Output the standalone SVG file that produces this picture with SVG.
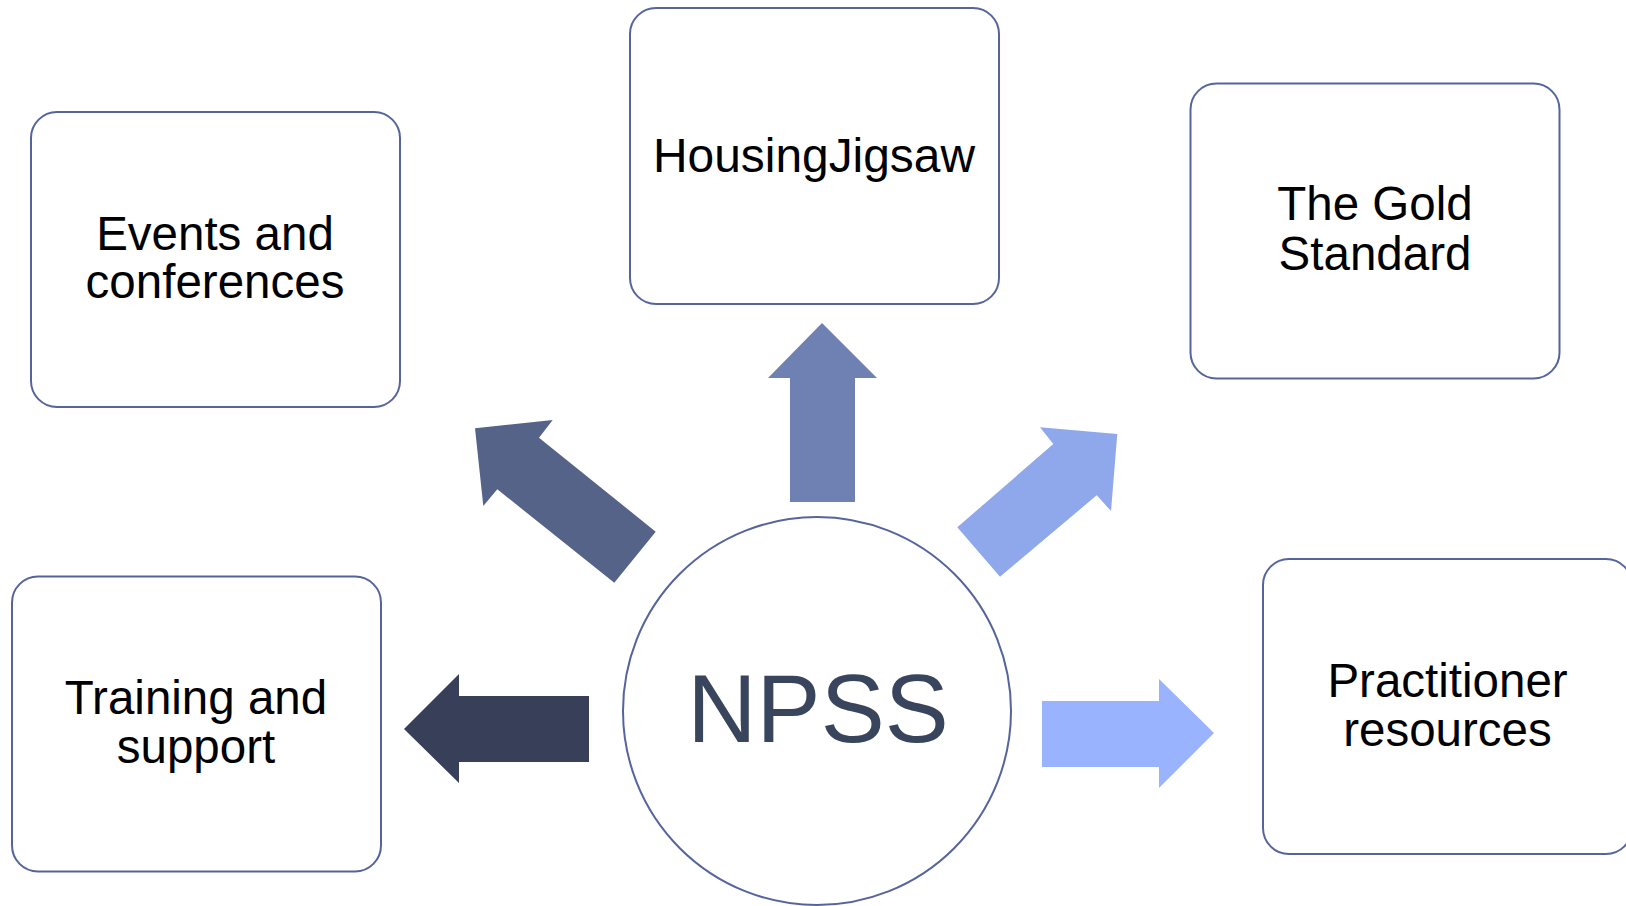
<svg xmlns="http://www.w3.org/2000/svg" width="1626" height="906" viewBox="0 0 1626 906">
<style>
.box{fill:#ffffff;stroke:#56649E;stroke-width:2}
.lbl{font-family:"Liberation Sans",Arial,sans-serif;font-size:47.5px;fill:#000000;text-anchor:middle}
.hub{font-family:"Liberation Sans",Arial,sans-serif;font-size:96px;fill:#38455C;text-anchor:middle}
</style>
<rect width="1626" height="906" fill="#ffffff"/>
<g id="connectors">
<polygon fill="#373F59" points="589,696 459,696 459,674 404,729 459,783 459,762 589,762"/>
<polygon fill="#556388" points="655.7,531.7 539,437.7 552.7,420 475,428.3 483.3,506 497.3,489.3 614.3,582.7"/>
<polygon fill="#6F80B3" points="790,502 790,378 768,378 822,323 877,378 855,378 855,502"/>
<polygon fill="#8FA8EB" points="957.3,527.3 1053.3,444 1040,427.3 1117.3,434 1111,511 1096.7,495.3 1000,576.7"/>
<polygon fill="#99B3FF" points="1042,701 1159,701 1159,679 1214,733 1159,788 1159,767 1042,767"/>
</g>
<g id="node-npss">
<circle class="box" cx="817" cy="711" r="194"/>
<text class="hub" x="818" y="742">NPSS</text>
</g>
<g id="node-events">
<rect class="box" x="31" y="112" width="369" height="295" rx="26"/>
<text class="lbl" x="215" y="250">Events and</text>
<text class="lbl" x="215" y="298">conferences</text>
</g>
<g id="node-housing">
<rect class="box" x="630" y="8" width="369" height="296" rx="26"/>
<text class="lbl" x="814" y="171.5" textLength="322" lengthAdjust="spacingAndGlyphs">HousingJigsaw</text>
</g>
<g id="node-gold">
<rect class="box" x="1190.5" y="83.5" width="369" height="295" rx="26"/>
<text class="lbl" x="1375" y="220">The Gold</text>
<text class="lbl" x="1375" y="270">Standard</text>
</g>
<g id="node-training">
<rect class="box" x="12" y="576.5" width="369" height="295" rx="26"/>
<text class="lbl" x="196" y="714">Training and</text>
<text class="lbl" x="196" y="763">support</text>
</g>
<g id="node-practitioner">
<rect class="box" x="1263" y="559" width="369" height="295" rx="26"/>
<text class="lbl" x="1447.5" y="697">Practitioner</text>
<text class="lbl" x="1447.5" y="746">resources</text>
</g>
</svg>
